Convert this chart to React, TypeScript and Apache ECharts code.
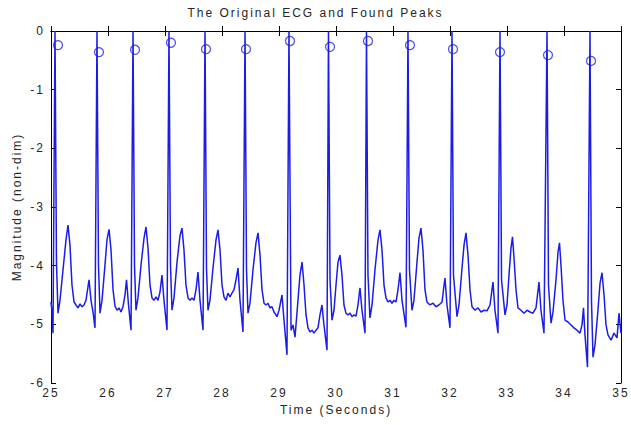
import React, { useEffect, useRef } from "react";
import * as echarts from "echarts";

const titleText = "The Original ECG and Found Peaks";
const xAxisName = "Time (Seconds)";
const yAxisName = "Magnitude (non-dim)";

// ECG trace (time in seconds, magnitude)
const ecgTime = [
  25.0, 25.018, 25.035, 25.07, 25.096, 25.123, 25.158, 25.211, 25.263, 25.298, 25.333, 25.368, 25.404, 25.439, 25.474, 25.509, 25.544, 25.579, 25.614, 25.667, 25.702, 25.737, 25.772, 25.807,
  25.833, 25.86, 25.895, 25.947, 25.982, 26.018, 26.053, 26.088, 26.123, 26.158, 26.193, 26.228, 26.263, 26.298, 26.325, 26.36, 26.404, 26.439,
  26.465, 26.491, 26.526, 26.579, 26.632, 26.667, 26.702, 26.737, 26.772, 26.807, 26.842, 26.877, 26.912, 26.947, 26.982, 27.035, 27.07,
  27.096, 27.123, 27.158, 27.211, 27.263, 27.298, 27.333, 27.368, 27.404, 27.439, 27.474, 27.509, 27.544, 27.579, 27.614, 27.667, 27.702,
  27.728, 27.754, 27.789, 27.842, 27.895, 27.93, 27.965, 28.0, 28.035, 28.07, 28.105, 28.14, 28.175, 28.211, 28.246, 28.281, 28.316, 28.368, 28.404,
  28.43, 28.456, 28.491, 28.544, 28.596, 28.632, 28.667, 28.702, 28.737, 28.772, 28.807, 28.842, 28.877, 28.912, 28.965, 29.0, 29.053, 29.088, 29.14, 29.175,
  29.211, 29.246, 29.281, 29.333, 29.368, 29.404, 29.439, 29.474, 29.509, 29.544, 29.579, 29.614, 29.649, 29.684, 29.719, 29.754, 29.789, 29.842, 29.868,
  29.895, 29.93, 29.965, 30.0, 30.035, 30.07, 30.105, 30.14, 30.175, 30.211, 30.246, 30.281, 30.316, 30.351, 30.386, 30.421, 30.456, 30.509, 30.535,
  30.561, 30.596, 30.632, 30.684, 30.737, 30.772, 30.807, 30.842, 30.877, 30.912, 30.947, 30.982, 31.018, 31.053, 31.088, 31.123, 31.158, 31.228, 31.263,
  31.289, 31.333, 31.368, 31.421, 31.456, 31.491, 31.526, 31.561, 31.596, 31.649, 31.702, 31.754, 31.807, 31.86, 31.886, 31.912, 31.947, 32.0, 32.035,
  32.061, 32.123, 32.158, 32.211, 32.246, 32.281, 32.316, 32.351, 32.386, 32.439, 32.491, 32.544, 32.596, 32.649, 32.702, 32.754, 32.789, 32.842, 32.877,
  32.904, 32.965, 33.0, 33.035, 33.07, 33.096, 33.123, 33.158, 33.193, 33.246, 33.298, 33.351, 33.404, 33.456, 33.509, 33.561, 33.596, 33.649, 33.702,
  33.728, 33.772, 33.807, 33.86, 33.895, 33.921, 33.947, 33.982, 34.018, 34.07, 34.123, 34.175, 34.228, 34.281, 34.316, 34.342, 34.368, 34.412, 34.456,
  34.482, 34.509, 34.544, 34.596, 34.632, 34.667, 34.702, 34.737, 34.772, 34.825, 34.877, 34.93, 34.965, 35.0,
];
const ecgValue = [
  -4.62, -4.79, -5.15, 0, -3.94, -4.81, -4.59, -4.07, -3.56, -3.31, -3.65, -4.33, -4.62, -4.67, -4.72, -4.65, -4.7, -4.67, -4.59, -4.24, -4.59, -4.79, -5.06, 0,
  -3.99, -4.81, -4.59, -3.99, -3.56, -3.38, -3.73, -4.41, -4.69, -4.76, -4.72, -4.79, -4.7, -4.5, -4.24, -4.67, -5.1, 0,
  -3.99, -4.76, -4.55, -3.99, -3.53, -3.34, -3.7, -4.33, -4.55, -4.59, -4.53, -4.59, -4.45, -4.16, -4.59, -5.1, 0,
  -3.99, -4.76, -4.55, -3.94, -3.49, -3.36, -3.73, -4.33, -4.55, -4.59, -4.55, -4.59, -4.41, -4.11, -4.59, -5.1, 0,
  -4.04, -4.76, -4.59, -4.04, -3.56, -3.39, -3.73, -4.33, -4.53, -4.59, -4.47, -4.53, -4.47, -4.41, -4.24, -4.04, -4.59, -5.13, 0,
  -4.07, -4.81, -4.64, -4.07, -3.61, -3.44, -3.82, -4.41, -4.64, -4.67, -4.64, -4.72, -4.7, -4.79, -4.87, -4.76, -4.5, -4.93, -5.52, 0,
  -5.1, -5.01, -5.22, -4.59, -4.16, -3.94, -4.33, -4.84, -5.06, -5.13, -5.1, -5.15, -5.1, -5.06, -4.84, -4.67, -5.01, -5.44, 0,
  -4.24, -4.93, -4.76, -4.33, -3.94, -3.82, -4.16, -4.67, -4.81, -4.84, -4.81, -4.87, -4.84, -4.86, -4.67, -4.38, -4.76, -5.15, 0,
  -4.16, -4.89, -4.67, -4.07, -3.56, -3.39, -3.73, -4.33, -4.55, -4.62, -4.59, -4.64, -4.59, -4.62, -4.41, -4.12, -4.59, -5.05, 0,
  -4.07, -4.76, -4.59, -3.94, -3.53, -3.36, -3.73, -4.41, -4.62, -4.67, -4.64, -4.7, -4.67, -4.62, -4.41, -4.21, -4.67, -5.06, 0,
  -4.16, -4.87, -4.67, -4.04, -3.65, -3.44, -3.82, -4.41, -4.7, -4.76, -4.72, -4.79, -4.76, -4.77, -4.67, -4.28, -4.76, -5.15, 0,
  -4.24, -4.84, -4.67, -4.16, -3.7, -3.51, -3.87, -4.41, -4.72, -4.76, -4.81, -4.76, -4.79, -4.81, -4.72, -4.28, -4.76, -5.15, 0,
  -4.33, -4.98, -4.79, -4.24, -3.77, -3.61, -3.99, -4.59, -4.93, -4.96, -5.01, -5.06, -5.1, -5.15, -5.01, -4.72, -5.18, -5.73, 0,
  -4.59, -5.56, -5.35, -4.76, -4.3, -4.12, -4.5, -5.01, -5.18, -5.27, -5.15, -5.23, -4.81, -5.15,
];

// Found peaks
const peakTime = [25.123, 25.842, 26.474, 27.105, 27.719, 28.421, 29.193, 29.895, 30.561, 31.298, 32.053, 32.877, 33.719, 34.474];
const peakValue = [-0.24, -0.36, -0.32, -0.2, -0.31, -0.31, -0.17, -0.27, -0.17, -0.24, -0.31, -0.36, -0.41, -0.51];

const xMin = 25;
const xMax = 35;
const yMin = -6;
const yMax = 0;

export default function App() {
  const ref = useRef<HTMLDivElement>(null);
  useEffect(() => {
    document.body.style.margin = "0";
    if (!ref.current) return;
    const chart = echarts.init(ref.current, null, { renderer: "svg" });
    const font = "'Liberation Sans', Arial, Helvetica, sans-serif";
    const textColor = "#262626";
    const blue = "#1c1ce6";
    const ecgData = ecgTime.map((t, i) => [t, ecgValue[i]]);
    const peakData = peakTime.map((t, i) => [t, peakValue[i]]);
    const boxAxisCommon = {
      axisLine: { show: true, lineStyle: { color: "#000", width: 1 } },
      axisTick: { show: true, inside: true, length: 5, lineStyle: { color: "#000" } },
      splitLine: { show: false },
    };
    chart.setOption({
      animation: false,
      backgroundColor: "#fff",
      title: {
        text: titleText,
        left: "center",
        top: 7,
        padding: 0,
        textStyle: { fontFamily: font, fontSize: 12, fontWeight: "normal", color: textColor },
      },
      grid: { left: 51, right: 10, top: 31, bottom: 42, containLabel: false },
      xAxis: [
        {
          type: "value",
          min: xMin,
          max: xMax,
          interval: 1,
          position: "bottom",
          name: xAxisName,
          nameLocation: "middle",
          nameGap: 20,
          nameTextStyle: { fontFamily: font, fontSize: 12, color: textColor },
          axisLabel: { fontFamily: font, fontSize: 12, color: textColor, margin: 4 },
          ...boxAxisCommon,
        },
        {
          type: "value",
          min: xMin,
          max: xMax,
          interval: 1,
          position: "top",
          axisLabel: { show: false },
          ...boxAxisCommon,
        },
      ],
      yAxis: [
        {
          type: "value",
          min: yMin,
          max: yMax,
          interval: 1,
          position: "left",
          name: yAxisName,
          nameLocation: "middle",
          nameGap: 28,
          nameRotate: 90,
          nameTextStyle: { fontFamily: font, fontSize: 12, color: textColor },
          axisLabel: { fontFamily: font, fontSize: 12, color: textColor, margin: 6 },
          ...boxAxisCommon,
        },
        {
          type: "value",
          min: yMin,
          max: yMax,
          interval: 1,
          position: "right",
          axisLabel: { show: false },
          ...boxAxisCommon,
        },
      ],
      series: [
        {
          type: "line",
          xAxisIndex: 0,
          yAxisIndex: 0,
          data: ecgData,
          showSymbol: false,
          symbol: "none",
          lineStyle: { color: blue, width: 1.5 },
          clip: true,
          z: 2,
        },
        {
          type: "scatter",
          xAxisIndex: 0,
          yAxisIndex: 0,
          data: peakData,
          symbol: "circle",
          symbolSize: 9,
          itemStyle: { color: "rgba(0,0,0,0)", borderColor: blue, borderWidth: 1.2 },
          z: 3,
        },
      ],
    });
    return () => chart.dispose();
  }, []);
  return <div ref={ref} style={{ width: 631, height: 425, letterSpacing: "2px" }} />;
}
